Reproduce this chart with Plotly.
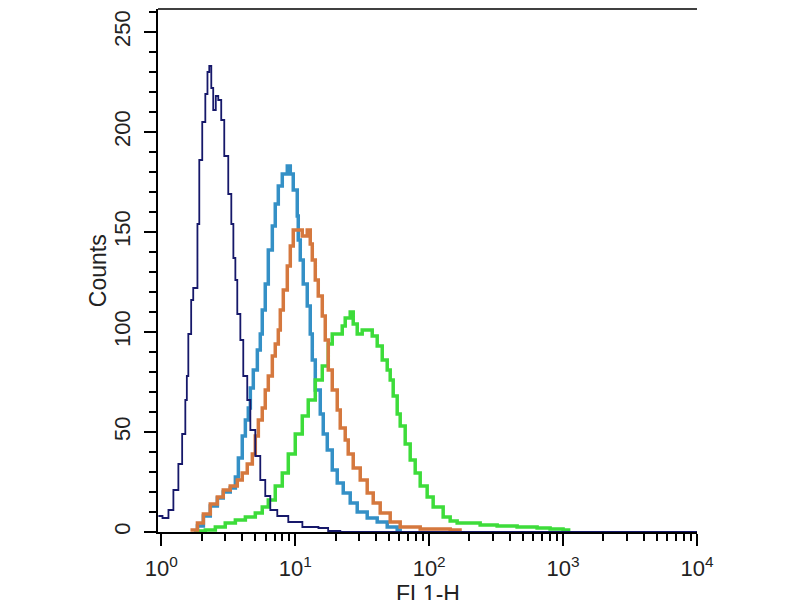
import plotly.graph_objects as go

# FL1-H histogram traces (x = FL1-H, y = counts)
navy_x = [0.95, 1.02, 1.13, 1.23, 1.34, 1.43, 1.51, 1.55, 1.59, 1.67, 1.73, 1.86, 1.92, 2.02,
          2.13, 2.21, 2.28, 2.36, 2.44, 2.55, 2.66, 2.80, 2.95, 3.16, 3.33, 3.45, 3.57, 3.69,
          3.89, 4.09, 4.38, 4.62, 5.03, 5.48, 5.97, 6.51, 7.34, 8.87, 11.3, 14.9, 17.6, 21.7, 10000]
navy_y = [8, 7, 11, 21, 34, 49, 66, 78, 99, 116, 122, 154, 186, 205,
          219, 230, 233, 222, 211, 218, 216, 206, 188, 169, 154, 137, 126, 109,
          96, 78, 66, 51, 38, 26, 18, 11, 8, 5, 2.5, 2, 0.5, 0, 0]

blue_x = [1.75, 1.86, 2.06, 2.32, 2.62, 2.90, 3.27, 3.57, 3.76, 4.02, 4.24, 4.46, 4.62, 4.86,
          5.21, 5.48, 5.67, 5.97, 6.29, 6.74, 7.09, 7.47, 8.00, 8.72, 9.18, 9.66, 10.35, 10.53,
          10.9, 11.47, 12.29, 12.94, 13.4, 14.11, 15.37, 16.18, 17.34, 18.89, 20.58, 22.82,
          25.73, 29.02, 34.46, 40.92, 48.61, 57.71, 60.76]
blue_y = [0, 3, 8, 13, 17, 20, 22, 27.5, 37, 48, 56, 62, 72, 81,
          91, 99, 111, 124, 141, 153, 164, 173, 179, 183, 179, 171, 158, 146,
          136, 124, 113, 99, 86, 71, 59, 49, 41, 31, 24.5, 19.5,
          14.5, 10, 7, 5, 2.5, 1, 0]

orange_x = [1.65, 1.86, 2.06, 2.32, 2.62, 2.90, 3.27, 3.69, 4.02, 4.38, 4.78, 5.03, 5.30, 5.67,
            5.97, 6.29, 6.74, 7.09, 7.47, 7.73, 8.14, 8.72, 9.18, 9.66, 10.35, 11.28, 12.29,
            12.94, 13.4, 14.11, 14.85, 15.91, 16.75, 17.64, 18.89, 20.58, 21.67, 23.61, 24.86,
            27.09, 30.56, 34.46, 38.21, 43.09, 51.17, 60.76, 85.7, 143.5, 170]
orange_y = [1, 4.5, 9, 14, 17.5, 21, 23, 26, 29.5, 34, 39, 48, 56, 62,
            71, 78, 88, 94, 101, 111, 121, 133, 143, 151, 151, 148, 151,
            144, 136, 126, 118, 108, 96, 81, 71, 61, 52, 46, 39,
            32, 26, 19.5, 14.5, 9.5, 5, 2.5, 1.5, 1, 0]

green_x = [1.8, 2.13, 2.53, 3.0, 3.57, 4.24, 5.03, 5.67, 6.29, 7.09, 8.0, 8.87, 10.0, 11.28,
           12.5, 14.11, 15.91, 17.64, 18.89, 20.58, 22.43, 23.61, 25.73, 27.09, 29.02, 31.62,
           34.46, 37.56, 40.92, 44.61, 48.61, 51.17, 53.87, 57.71, 60.76, 66.22, 72.16, 78.64,
           85.7, 96.62, 107.1, 127.2, 143.5, 161.8, 240.3, 321.8, 453.6, 639.7, 800, 1000, 1100]
green_y = [0.5, 1, 2.5, 4.5, 6, 7.5, 9.5, 12.5, 16, 23, 29.5, 39, 49, 58,
           66, 76, 83, 94, 99, 99, 103, 107, 110, 104, 99, 101,
           101, 98, 93, 86, 81, 76, 68, 59, 53, 44, 36, 29.5,
           23, 17.5, 12.5, 7.5, 5.5, 4.5, 3.5, 3, 2.5, 2, 1.5, 1, 0]

x_tickvals = [1, 10, 100, 1000, 10000]
x_ticktext = ["10<sup>0</sup>", "10<sup>1</sup>", "10<sup>2</sup>", "10<sup>3</sup>", "10<sup>4</sup>"]
x_minor = [m * 10 ** k for k in range(4) for m in range(2, 10)]

fig = go.Figure()
fig.add_trace(go.Scatter(x=blue_x, y=blue_y, mode="lines", line_shape="hv",
                         line=dict(color="#3490c6", width=3.5)))
fig.add_trace(go.Scatter(x=green_x, y=green_y, mode="lines", line_shape="hv",
                         line=dict(color="#3ddc3a", width=3.5)))
fig.add_trace(go.Scatter(x=orange_x, y=orange_y, mode="lines", line_shape="hv",
                         line=dict(color="#d5783e", width=3.5)))
fig.add_trace(go.Scatter(x=navy_x, y=navy_y, mode="lines", line_shape="hv",
                         line=dict(color="#16186a", width=1.8)))

# the page body adds 8px, so the figure is a bit smaller than the window
fig.update_layout(
    width=792, height=592,
    margin=dict(l=150, r=103, t=1, b=68),
    paper_bgcolor="white", plot_bgcolor="white",
    showlegend=False,
    font=dict(family="Liberation Sans, Arial", color="#222"),
    xaxis=dict(type="log", range=[-0.025, 4.0],
               tickvals=x_tickvals, ticktext=x_ticktext,
               ticks="outside", ticklen=12, tickwidth=1.5, tickcolor="black",
               minor=dict(tickvals=x_minor, ticks="outside", ticklen=7, tickwidth=1.5,
                          tickcolor="black", showgrid=False),
               ticklabelstandoff=4,
               showline=True, linecolor="black", linewidth=2,
               showgrid=False, zeroline=False,
               tickfont=dict(size=22)),
    yaxis=dict(range=[0, 261.5], tickvals=[0, 50, 100, 150, 200, 250],
               ticks="outside", ticklen=12, tickwidth=1.5, tickcolor="black",
               minor=dict(dtick=10, ticks="outside", ticklen=7, tickwidth=1.5,
                          tickcolor="black", showgrid=False),
               tickangle=-90, ticklabelstandoff=5,
               showline=True, linecolor="black", linewidth=2,
               showgrid=False, zeroline=False,
               tickfont=dict(size=22)),
)

# top frame line
fig.add_shape(type="line", xref="paper", yref="paper", x0=0, x1=1, y0=1, y1=1,
              line=dict(color="black", width=1.5))

fig.add_annotation(text="Counts", xref="paper", yref="paper", x=-0.112, y=0.5,
                   xanchor="center", yanchor="middle", textangle=-90, showarrow=False,
                   font=dict(size=23))
fig.add_annotation(text="FL1-H", xref="paper", yref="paper", x=0.5, y=-0.118,
                   xanchor="center", yanchor="middle", showarrow=False,
                   font=dict(size=23))

fig.write_html("out.html")
